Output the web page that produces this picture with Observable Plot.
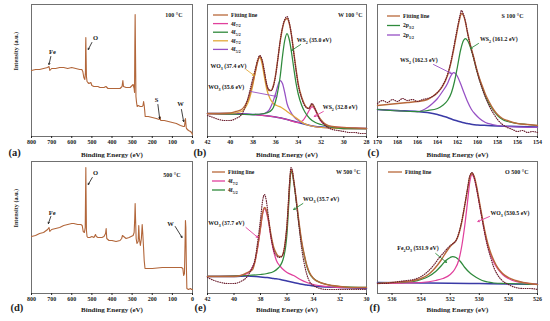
<!DOCTYPE html>
<html><head><meta charset="utf-8">
<script src="https://cdn.jsdelivr.net/npm/d3@7"></script>
<script src="https://cdn.jsdelivr.net/npm/@observablehq/plot@0.6"></script>
<style>
body{margin:0;background:#fff;}
#fig{position:relative;width:550px;height:321px;overflow:hidden;background:#fff;}
#fig svg{position:absolute;}
</style></head><body><div id="fig"></div>
<script>
// ---------- DATA ----------
// (a) survey 100 °C
const surveyA_eV = [800,780,760,740,720,713,709,700,680,660,
 640,620,600,580,560,550,545,540,535,532,
 531,530,529,527,524,520,515,505,500,490,
 480,470,460,440,430,420,400,380,360,350,
 346,343,330,310,300,295,290,288,286.5,285,
 283.5,281,278,275,270,260,250,246,243,240,
 238,235,230,220,200,180,165,162,158,140,
 120,100,80,60,45,40,37,35,33,31,
 30,20,10,5,0];
const surveyA_int = [66,67,67,68,69,70,66,68,68,69,
 69,68,69,68,67,67,65,59,57,64,
 90,99,84,60,55,54,53,54,51,50,
 50,50,49,49,50,48,48,48,48,50,
 56,50,49,49,51,52,48,44,90,122,
 90,40,34,30,31,30,30,31,35,31,
 27,20,20,20,19,18,17,20,16,16,
 15,14,13,11,10,10,15,18,13,9,
 8,6,5,4,2];
// (d) survey 500 °C
const surveyD_eV = [800,780,760,740,720,713,709,700,680,660,
 640,620,600,590,570,555,548,543,537,533,
 531,530,529,527,524,520,510,500,490,482,
 478,470,450,440,432,429,426,415,400,380,
 360,352,348,330,315,305,295,290,287,285,
 283,280,276,270,267,264,259,254,250,247,
 243,240,236,225,200,150,100,70,55,48,
 44,40,37,35,33,31,28,20,10,5,
 0];
const surveyD_int = [57,58,60,61,64,66,62,64,65,66,
 68,69,70,70,69,69,68,62,61,66,
 106,126,103,63,57,56,56,57,56,59,
 57,56,56,57,60,65,55,53,53,52,
 53,55,58,55,56,57,58,61,75,90,
 75,55,50,52,68,55,48,55,69,60,
 45,33,25,25,25,26,26,26,26,25,
 18,20,50,73,66,33,5,4,5,4,
 4];

// (b) W 4f, 100 °C
const wB_fit_eV = [42,41,40,39.5,39,38.7,38.4,38.1,37.8,37.6,37.4,37.2,37.0,36.8,36.6,36.4,36.2,36.0,35.8,35.6,35.4,35.2,35.0,34.8,34.6,34.4,34.2,34.0,33.7,33.4,33.1,32.8,32.5,32.2,31.8,31.4,31,30,29,28];
const wB_fit_int = [23,23,23.5,25,27,31,38,50,64,74,80,76,64,52,46,46,51,62,78,95,108,116,118,113,101,84,67,52,39,31,28,32,27,20,14,11,10,9,8.5,8];
const wB_orange_eV = [42,40,39,38.6,38.3,38.0,37.8,37.6,37.4,37.2,37.0,36.8,36.5,36.2,35.9,35.5,35.0,34.5,34.0,33.5,33.0,32,30,28];
const wB_orange_int = [23,23,25,30,38,52,64,75,79,73,60,48,38,33,31,29,25,21,17,13,11,9,8,8];
const wB_green_eV = [42,38,37,36.5,36.2,35.9,35.6,35.4,35.2,35.0,34.8,34.6,34.4,34.2,34.0,33.7,33.4,33.0,32.5,32,31,30,28];
const wB_green_int = [23,22,23,25,29,40,60,80,96,103,97,84,68,53,42,31,24,18,14,12,9,8,8];
const wB_purple_eV = [42,38,37,36.6,36.3,36.0,35.8,35.6,35.4,35.2,35.0,34.7,34.4,34.0,33.5,33,32,30,28];
const wB_purple_int = [23,22,23,26,33,43,51,56,53,44,33,25,20,16,13,11,9,8,8];
const wB_pink_eV = [42,38,36,35,34,33.6,33.3,33.0,32.8,32.6,32.3,32.0,31.5,31,30,28];
const wB_pink_int = [23,22,19.5,17,14,16,21,27,30,28,21,15,11,10,9,8];
const wB_bg_eV = [42,40,38,37,36,35.5,35,34.5,34,33.5,33,32.5,32,31,30,28];
const wB_bg_int = [23,23,22,21,19.5,18.5,17,15.5,14,12.5,11,10,9.5,9,8.5,8];
const wB_raw_eV = [42,41.5,41,40.5,40,39.5,39,38.7,38.4,38.1,37.8,37.6,37.4,37.2,37.0,36.8,36.6,36.4,36.2,36.0,35.8,35.6,35.4,35.2,35.0,34.8,34.6,34.4,34.2,34.0,33.7,33.4,33.1,32.8,32.5,32.2,31.8,31.4,31,30.5,30,29.5,29,28.5,28];
const wB_raw_int = [21,19,17,16,16,18,22,29,40,54,67,76,81,77,66,53,47,46,50,61,78,96,109,117,120,114,101,83,66,51,38,30,28,33,27,19,13,9,7,6,5,4,4,3,3];

// (c) S 2p, 100 °C
const sC_fit_eV = [170,169,168,167,166,165,164.5,164,163.5,163,162.7,162.4,162.1,161.8,161.6,161.4,161.2,161.0,160.7,160.4,160.1,159.8,159.5,159.2,158.8,158.4,158,157.5,157,156,155,154];
const sC_fit_int = [31,32,33,34,35,37,40,44,50,61,72,86,102,117,123,121,114,104,91,80,68,58,50,42,34,27,22,18,16,13,12,11];
const sC_green_eV = [170,166,165,164,163.5,163,162.6,162.3,162.0,161.7,161.4,161.2,161.0,160.7,160.4,160.1,159.8,159.5,159.2,158.8,158.4,158,157.5,157,156,155,154];
const sC_green_int = [27,25,26,28,31,36,44,55,70,86,96,98,96,89,79,67,57,48,40,32,26,21,17,15,13,12,11];
const sC_purple_eV = [170,166,165,164.5,164,163.5,163,162.7,162.4,162.2,162.0,161.7,161.4,161.0,160.6,160.2,159.8,159.2,158.5,158,157,154];
const sC_purple_int = [27,25,29,33,38,45,53,60,64,63,60,53,45,35,27,22,18,14,12,11,10,9];
const sC_bg_eV = [170,168,166,165,164,163.5,163,162.5,162,161.5,161,160.5,160,159,158,156,154];
const sC_bg_int = [27,26,25,24,22,20.5,19,17,15.5,14,13,12,11.5,11,10.5,10,9.5];
const sC_raw_eV = [170,169.5,169,168.5,168,167.5,167,166.5,166,165.5,165,164.5,164,163.5,163,162.7,162.4,162.1,161.8,161.6,161.4,161.2,161.0,160.7,160.4,160.1,159.8,159.5,159.2,158.8,158.4,158,157.5,157,156.5,156,155.5,155,154.5,154];
const sC_raw_int = [33,36,34,37,35,38,36,37,35,37,38,40,44,51,62,73,88,104,119,126,122,115,104,90,79,67,56,47,39,30,23,17,12,9,7,5,6,4,5,4];

// (e) W 4f, 500 °C
const wE_fit_eV = [42,41,40,39.5,39,38.6,38.4,38.2,38.0,37.85,37.7,37.55,37.4,37.2,37.0,36.8,36.6,36.4,36.25,36.1,36.0,35.9,35.8,35.7,35.6,35.5,35.3,35.1,34.9,34.7,34.5,34.3,34.0,33.5,33,32,31,30];
const wE_fit_int = [17,17,17,18,21,24,33,48,66,80,86,83,74,58,46,40,37,37,42,55,68,88,110,124,122,114,94,72,53,39,28,21,15,11,9,7,6,6];
const wE_green_eV = [42,39,38,37.5,37,36.7,36.5,36.3,36.1,36.0,35.9,35.8,35.7,35.6,35.5,35.3,35.1,34.9,34.7,34.5,34.3,34.0,33.5,33,32,30];
const wE_green_int = [17,18,19,20,22,25,28,34,47,60,82,106,122,120,112,92,70,51,38,27,20,15,11,9,7,6];
const wE_pink_eV = [42,39.5,39,38.7,38.4,38.2,38.0,37.85,37.7,37.55,37.4,37.2,37.0,36.8,36.5,36.2,36.0,35.5,35.0,34.5,34.0,33,32,30];
const wE_pink_int = [17,18,20,24,33,47,65,79,85,81,72,55,42,33,27,23,21,18,14,11,9,7,6,6];
const wE_bg_eV = [42,40,39,38,37.5,37,36.5,36,35.5,35,34.5,34,33,32,30];
const wE_bg_int = [17,17,17.5,16.5,16,15,14,12.5,11,9.5,8.5,7.5,6.5,6,5];
const wE_raw_eV = [42,41.5,41,40.5,40,39.5,39,38.7,38.4,38.2,38.0,37.85,37.7,37.55,37.4,37.2,37.0,36.8,36.6,36.4,36.25,36.1,36.0,35.9,35.8,35.7,35.6,35.5,35.3,35.1,34.9,34.7,34.5,34.3,34.0,33.5,33,32.5,32,31.5,31,30.5,30];
const wE_raw_int = [16,13,11,10,10,12,17,24,35,53,74,92,99,92,76,56,43,38,36,37,42,55,69,90,112,126,123,114,92,68,46,30,19,12,8,5,4,4,4,4,4,4,4];

// (f) O 1s, 500 °C
const oF_fit_eV = [537,536,535,534.5,534,533.5,533.2,532.9,532.6,532.3,532.0,531.8,531.6,531.4,531.2,531.0,530.8,530.65,530.5,530.35,530.2,530.0,529.8,529.6,529.4,529.2,529.0,528.7,528.4,528,527.5,527,526.5,526];
const oF_fit_int = [10,11,12,13,15,19,23,28,34,41,47,50,53,60,72,88,105,117,120,117,108,92,76,61,49,40,33,25,20,16,13,11,10,9];
const oF_pink_eV = [537,535,534,533,532.5,532,531.7,531.4,531.2,531.0,530.8,530.65,530.5,530.35,530.2,530.0,529.8,529.6,529.4,529.2,529.0,528.7,528.4,528,527.5,527,526];
const oF_pink_int = [10,10.5,11,13,15,19,24,34,48,68,93,112,119,115,106,90,74,59,47,38,31,24,19,15,12,11,9];
const oF_green_eV = [537,535,534.5,534,533.5,533,532.6,532.3,532.0,531.85,531.6,531.3,531.0,530.6,530.2,529.8,529.4,529,528,527,526];
const oF_green_int = [10,11,12,14,17,22,28,33,36,37,36,32,26,20,16,13,11.5,10.5,10,9.5,9];
const oF_bg_eV = [537,534,532,530,528,526];
const oF_bg_int = [11,10.6,10.3,9.9,9.5,9.2];
const oF_raw_eV = [537,536.5,536,535.5,535,534.5,534,533.7,533.4,533.1,532.8,532.5,532.2,532.0,531.8,531.6,531.4,531.2,531.0,530.8,530.65,530.5,530.35,530.2,530.0,529.8,529.6,529.4,529.2,529.0,528.8,528.5,528,527.5,527,526.5,526];
const oF_raw_int = [10,10,11,12,13,14,17,20,24,29,35,40,45,48,50,53,61,73,89,106,118,121,116,106,90,74,58,45,35,26,20,14,9,6,5,5,4];

// tick labels
const ticksSurvey = [800,700,600,500,400,300,200,100,0];
const ticksWB = [42,40,38,36,34,32,30,28];
const ticksSC = [170,168,166,164,162,160,158,156,154];
const ticksWE = [42,40,38,36,34,32,30];
const ticksOF = [536,534,532,530,528,526];

// texts
const axisTitle = "Binding Energy (eV)";
const yTitle = "Intensity (a.u.)";
const legendB = ["Fitting line","4f{7/2}","4f{5/2}","4f{7/2}","4f{5/2}"];
const legendC = ["Fitting line","2p{3/2}","2p{1/2}"];
const legendE = ["Fitting line","4f{7/2}","4f{5/2}"];
const legendF = ["Fitting line"];
// annotations: text anchor (eV, intensity) and arrow tail/head
const annA = [{t:"Fe",x:696,y:85,x1:704,y1:80,x2:713,y2:72},{t:"O",x:482,y:99,x1:500,y1:94,x2:518,y2:87},{t:"S",x:179,y:37,x1:172,y1:32,x2:163,y2:18},{t:"W",x:60,y:33,x1:55,y1:27,x2:44,y2:15}];
const annD = [{t:"O",x:482,y:121,x1:498,y1:116,x2:518,y2:109},{t:"Fe",x:697,y:81,x1:704,y1:77,x2:716,y2:70},{t:"W",x:109,y:70,x1:86,y1:67,x2:52,y2:56}];
const annB = [{t:"WS{2} (35.0 eV)",x:34.1,y:96,x1:33.8,y1:92,x2:34.6,y2:86,c:"green"},
 {t:"WO{3} (37.4 eV)",x:41.7,y:70,x1:38.6,y1:67,x2:37.9,y2:61,c:"orange"},
 {t:"WO{3} (35.6 eV)",x:41.9,y:49,x1:38.2,y1:45,x2:35.9,y2:40,c:"purple"},
 {t:"WS{2} (32.8 eV)",x:31.8,y:29,x1:31.8,y1:25,x2:32.6,y2:20,c:"pink"}];
const annC = [{t:"WS{2} (161.2 eV)",x:159.7,y:97,x1:159.9,y1:93,x2:160.7,y2:88,c:"green"},
 {t:"WS{2} (162.3 eV)",x:167.7,y:76,x1:164.4,y1:72,x2:162.6,y2:63,c:"purple"}];
const annE = [{t:"WO{3} (35.7 eV)",x:34.75,y:94,x1:34.8,y1:90,x2:35.5,y2:84,c:"green"},
 {t:"WO{3} (37.7 eV)",x:41.9,y:70,x1:39.1,y1:66,x2:38.2,y2:56,c:"pink"}];
const annF = [{t:"WO{3} (530.5 eV)",x:529.2,y:80,x1:529.3,y1:77,x2:530.1,y2:72,c:"pink"},
 {t:"Fe{2}O{3} (531.9 eV)",x:535.6,y:45,x1:533.0,y1:40,x2:532.25,y2:31,c:"green"}];

// ---------- STYLE ----------
const COL = {fit:"#b8683a", pink:"#e0409c", green:"#2f8a3c", orange:"#e2a93a", purple:"#9650c4", bg:"#3a3aa6", raw:"#6a1e2e", survey:"#b2663a", frame:"#707070"};
const FONT = '"Liberation Serif","Times New Roman",serif';

const zip = (xs, ys) => xs.map((x, i) => ({x, y: ys[i]}));

function richNode(g, x, y, markup, size, anchor) {
  const t = g.append("text").attr("x", x).attr("y", y).attr("dy", "0.35em")
    .attr("font-size", size).attr("text-anchor", anchor || "start").attr("fill", "#111");
  const re = /\{([^}]*)\}/g; let last = 0, m, shift = 0;
  while ((m = re.exec(markup))) {
    if (m.index > last) { const s = t.append("tspan").text(markup.slice(last, m.index)); if (shift) s.attr("dy", shift); shift = 0; }
    t.append("tspan").attr("font-size", size * 0.7).attr("dy", size * 0.3).text(m[1]);
    shift = -size * 0.3; last = re.lastIndex;
  }
  if (last < markup.length) { const s = t.append("tspan").text(markup.slice(last)); if (shift) s.attr("dy", shift); }
}

function legendMark(labels, colors, o) {
  return (index, scales, values, dims) => {
    const g = d3.create("svg:g").attr("font-weight", "bold");
    labels.forEach((lab, i) => {
      const y = dims.marginTop + o.top + i * o.gap;
      const x0 = dims.marginLeft + o.left;
      g.append("line").attr("x1", x0).attr("x2", x0 + o.len).attr("y1", y).attr("y2", y)
        .attr("stroke", colors[i]).attr("stroke-width", 1.3);
      richNode(g, x0 + o.len + 3, y, lab, o.size, "start");
    });
    return g.node();
  };
}
function annotMark(items, size) {
  return (index, scales) => {
    const g = d3.create("svg:g").attr("font-weight", "bold");
    items.forEach(it => richNode(g, scales.x(it.x), scales.y(it.y), it.t, size, "start"));
    return g.node();
  };
}

function panel(cfg) {
  const marks = [];
  marks.push(Plot.frame({stroke: COL.frame, strokeWidth: 1}));
  cfg.lines.forEach(l => marks.push(Plot.line(zip(l.x, l.y), {x: "x", y: "y", stroke: l.color,
    strokeWidth: l.w || 1.25, curve: l.curve || "monotone-x", strokeDasharray: l.dash, strokeLinecap: "round"})));
  marks.push(Plot.axisX(cfg.ticks, {anchor: "bottom", tickSize: 2, tickPadding: 1.5, fontSize: 6, fontWeight: "bold", tickFormat: d => String(d)}));
  marks.push(Plot.text([axisTitle], {frameAnchor: "bottom", dy: cfg.titleDy, fontSize: 7, fontWeight: "bold"}));
  marks.push(Plot.text([cfg.letter], {frameAnchor: "bottom-left", dx: cfg.letterDx, dy: cfg.titleDy - 1, textAnchor: "start", fontSize: 10.5, fontWeight: "bold"}));
  marks.push(Plot.text([cfg.tag], {frameAnchor: "top-right", dx: cfg.tagDx, dy: cfg.tagDy, textAnchor: "end", lineAnchor: "middle", fontSize: 6, fontWeight: "bold"}));
  if (cfg.ylabel) marks.push(Plot.text([yTitle], {frameAnchor: "left", dx: -15, rotate: -90, fontSize: 6.2, fontWeight: "bold"}));
  if (cfg.legend) marks.push(legendMark(cfg.legend, cfg.legendColors, cfg.legendOpts));
  if (cfg.ann) {
    marks.push(annotMark(cfg.ann, 5.8));
    cfg.ann.forEach(a => marks.push(Plot.arrow([a], {x1: "x1", y1: "y1", x2: "x2", y2: "y2", stroke: COL[a.c], strokeWidth: 0.9, headLength: 3})));
  }
  if (cfg.simpleAnn) {
    marks.push(Plot.text(cfg.simpleAnn, {x: "x", y: "y", text: "t", fontSize: 6.5, fontWeight: "bold"}));
    cfg.simpleAnn.forEach(a => marks.push(Plot.arrow([a], {x1: "x1", y1: "y1", x2: "x2", y2: "y2", stroke: "#111", strokeWidth: 0.8, headLength: 2.5})));
  }
  const svg = Plot.plot({
    width: cfg.width, height: cfg.height,
    marginLeft: cfg.mL, marginRight: cfg.mR, marginTop: cfg.mT, marginBottom: cfg.mB,
    x: {domain: cfg.xDomain},
    y: {domain: [0, 132], axis: null},
    style: {fontFamily: FONT, fontSize: "6px", fontWeight: "bold", overflow: "visible", background: "transparent", color: "#222"},
    marks
  });
  svg.style.left = cfg.left + "px";
  svg.style.top = cfg.top + "px";
  document.getElementById("fig").appendChild(svg);
}

const cols = [{left: 0, width: 200, mL: 31, mR: 8}, {left: 186, width: 186, mL: 21, mR: 6}, {left: 360, width: 190, mL: 17, mR: 13}];
const rows = [{top: 0, height: 165, mT: 4, mB: 29, titleDy: 20}, {top: 157, height: 164, mT: 4, mB: 28, titleDy: 18}];

// (a)
panel({...cols[0], ...rows[0], xDomain: [800, 0], ticks: ticksSurvey, letter: "(a)", letterDx: -23, tag: "100 °C", tagDx: -10, tagDy: 11, ylabel: true,
  lines: [{x: surveyA_eV, y: surveyA_int, color: COL.survey, curve: "linear", w: 1.1}], simpleAnn: annA});
// (b)
panel({...cols[1], ...rows[0], xDomain: [42, 28], ticks: ticksWB, letter: "(b)", letterDx: -14, tag: "W 100 °C", tagDx: -4, tagDy: 11,
  lines: [
    {x: wB_bg_eV, y: wB_bg_int, color: COL.bg, w: 1.5},
    {x: wB_pink_eV, y: wB_pink_int, color: COL.pink},
    {x: wB_purple_eV, y: wB_purple_int, color: COL.purple},
    {x: wB_orange_eV, y: wB_orange_int, color: COL.orange},
    {x: wB_green_eV, y: wB_green_int, color: COL.green},
    {x: wB_fit_eV, y: wB_fit_int, color: COL.fit, w: 1.4},
    {x: wB_raw_eV, y: wB_raw_int, color: COL.raw, w: 1.2, dash: "0.6,1.6"}],
  legend: legendB, legendColors: [COL.fit, COL.pink, COL.green, COL.orange, COL.purple],
  legendOpts: {left: 6, top: 11, gap: 8.6, len: 15, size: 5.6}, ann: annB});
// (c)
panel({...cols[2], ...rows[0], xDomain: [170, 154], ticks: ticksSC, letter: "(c)", letterDx: -10, tag: "S 100 °C", tagDx: -14, tagDy: 12,
  lines: [
    {x: sC_bg_eV, y: sC_bg_int, color: COL.bg, w: 1.5},
    {x: sC_purple_eV, y: sC_purple_int, color: COL.purple},
    {x: sC_green_eV, y: sC_green_int, color: COL.green},
    {x: sC_fit_eV, y: sC_fit_int, color: COL.fit, w: 1.4},
    {x: sC_raw_eV, y: sC_raw_int, color: COL.raw, w: 1.2, dash: "0.6,1.6"}],
  legend: legendC, legendColors: [COL.fit, COL.green, COL.purple],
  legendOpts: {left: 10, top: 12, gap: 9.5, len: 13, size: 5.6}, ann: annC});
// (d)
panel({...cols[0], ...rows[1], xDomain: [800, 0], ticks: ticksSurvey, letter: "(d)", letterDx: -21, tag: "500 °C", tagDx: -12, tagDy: 14, ylabel: true,
  lines: [{x: surveyD_eV, y: surveyD_int, color: COL.survey, curve: "linear", w: 1.1}], simpleAnn: annD});
// (e)
panel({...cols[1], ...rows[1], xDomain: [42, 30], ticks: ticksWE, letter: "(e)", letterDx: -13, tag: "W 500 °C", tagDx: -6, tagDy: 11,
  lines: [
    {x: wE_bg_eV, y: wE_bg_int, color: COL.bg, w: 1.5},
    {x: wE_pink_eV, y: wE_pink_int, color: COL.pink},
    {x: wE_green_eV, y: wE_green_int, color: COL.green},
    {x: wE_fit_eV, y: wE_fit_int, color: COL.fit, w: 1.4},
    {x: wE_raw_eV, y: wE_raw_int, color: COL.raw, w: 1.2, dash: "0.6,1.6"}],
  legend: legendE, legendColors: [COL.fit, COL.pink, COL.green],
  legendOpts: {left: 5, top: 11, gap: 9, len: 13, size: 5.6}, ann: annE});
// (f)
panel({...cols[2], ...rows[1], xDomain: [537, 526], ticks: ticksOF, letter: "(f)", letterDx: -8, tag: "O 500 °C", tagDx: -9, tagDy: 11,
  lines: [
    {x: oF_bg_eV, y: oF_bg_int, color: COL.bg, w: 1.5},
    {x: oF_green_eV, y: oF_green_int, color: COL.green},
    {x: oF_pink_eV, y: oF_pink_int, color: COL.pink},
    {x: oF_fit_eV, y: oF_fit_int, color: COL.fit, w: 1.4},
    {x: oF_raw_eV, y: oF_raw_int, color: COL.raw, w: 1.2, dash: "0.6,1.6"}],
  legend: legendF, legendColors: [COL.fit],
  legendOpts: {left: 11, top: 11, gap: 9, len: 14, size: 5.6}, ann: annF});
</script></body></html>
